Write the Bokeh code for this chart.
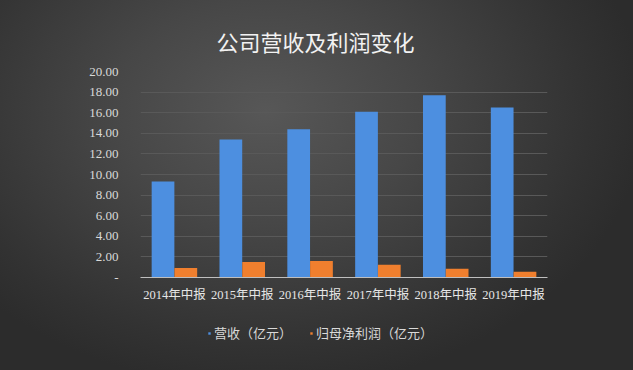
from bokeh.plotting import figure
from bokeh.layouts import column
from bokeh.models import ColumnDataSource, Legend, LegendItem, Title, FactorRange, FixedTicker, CustomJSTickFormatter
from bokeh.transform import dodge
from bokeh.embed import file_html
from bokeh.resources import INLINE

categories = ["2014年中报", "2015年中报", "2016年中报", "2017年中报", "2018年中报", "2019年中报"]
revenue = [9.32, 13.4, 14.4, 16.1, 17.7, 16.5]
net_profit = [0.93, 1.50, 1.60, 1.25, 0.86, 0.56]
y_ticks = [0, 2, 4, 6, 8, 10, 12, 14, 16, 18, 20]
series_names = ["营收（亿元）", "归母净利润（亿元）"]
series_colors = ["#4d8fe0", "#f07f2e"]

src = ColumnDataSource(dict(cat=categories, rev=revenue, np=net_profit))

p = figure(width=633, height=310, x_range=FactorRange(*categories, range_padding=0),
           y_range=(0, 20), output_backend="svg", toolbar_location=None,
           min_border_left=140, min_border_right=86, min_border_top=71, min_border_bottom=33)

p.background_fill_alpha = 0
p.border_fill_alpha = 0
p.outline_line_color = None

p.title = Title(text="公司营收及利润变化", align="left", offset=76,
                text_font="Noto Sans CJK SC", text_font_size="22px",
                text_color="#f2f2f2", text_font_style="normal", standoff=29)

r1 = p.vbar(x=dodge("cat", -0.168, range=p.x_range), top="rev", width=0.335, source=src,
            fill_color=series_colors[0], line_color=None)
r2 = p.vbar(x=dodge("cat", 0.168, range=p.x_range), top="np", width=0.335, source=src,
            fill_color=series_colors[1], line_color=None)

p.yaxis.ticker = FixedTicker(ticks=y_ticks)
p.yaxis.formatter = CustomJSTickFormatter(code="return tick == 0 ? '-' : tick.toFixed(2);")
p.yaxis.axis_line_color = None
p.yaxis.major_tick_line_color = None
p.yaxis.minor_tick_line_color = None
p.yaxis.major_label_text_color = "#d9d9d9"
p.yaxis.major_label_text_font = "Liberation Serif"
p.yaxis.major_label_text_font_size = "13px"
p.yaxis.major_label_standoff = 16

p.xaxis.axis_line_color = "#bfbfbf"
p.xaxis.axis_line_width = 1
p.xaxis.major_tick_line_color = None
p.xaxis.minor_tick_line_color = None
p.xaxis.major_label_text_color = "#e6e6e6"
p.xaxis.major_label_text_font = "Liberation Serif, Noto Sans CJK SC"
p.xaxis.major_label_text_font_size = "12.5px"
p.xaxis.major_label_standoff = 4

p.xgrid.grid_line_color = None
p.ygrid.grid_line_color = "#595959"
p.ygrid.grid_line_width = 1
p.ygrid.ticker = FixedTicker(ticks=y_ticks)

# legend strip (its frame is aligned with the main frame by the column layout)
lg = figure(width=633, height=60, output_backend="svg", toolbar_location=None,
            min_border=0, x_range=(0, 1), y_range=(0, 1))
lg.axis.visible = False
lg.grid.visible = False
lg.background_fill_alpha = 0
lg.border_fill_alpha = 0
lg.outline_line_color = None
g1 = lg.scatter(x=[-5], y=[-5], marker="square", fill_color=series_colors[0], line_color=None)
g2 = lg.scatter(x=[-5], y=[-5], marker="square", fill_color=series_colors[1], line_color=None)
legend = Legend(items=[LegendItem(label=series_names[0], renderers=[g1]),
                       LegendItem(label=series_names[1], renderers=[g2])],
                orientation="horizontal", location=(66, 28),
                background_fill_alpha=0, border_line_color=None,
                label_text_color="#d9d9d9", label_text_font="Noto Sans CJK SC",
                label_text_font_size="13px", glyph_width=6, glyph_height=6,
                label_standoff=2, spacing=16, margin=0, padding=0)
lg.add_layout(legend, "center")

layout = column(p, lg, spacing=0)
layout.styles = {"background": "radial-gradient(ellipse 60% 75% at 42% 30%, #575757 0%, #474747 40%, #323232 85%, #2c2c2c 100%)"}

open("out.html", "w").write(file_html(layout, INLINE))
